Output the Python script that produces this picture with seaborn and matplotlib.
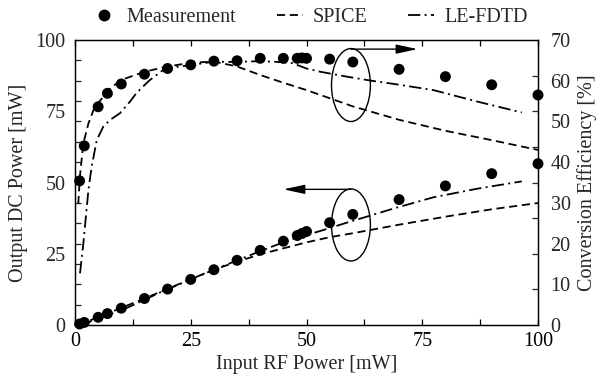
import numpy as np
import pandas as pd
import matplotlib
matplotlib.use("Agg")
import matplotlib.pyplot as plt
import seaborn as sns
from matplotlib.patches import Ellipse
from matplotlib.lines import Line2D
from matplotlib.ticker import FixedLocator

# ---------------- data ----------------
meas_x = [1, 2, 5, 7, 10, 15, 20, 25, 30, 35, 40, 45, 48, 49, 50, 55, 60, 70, 80, 90, 100]
meas_p = [0.35, 0.9, 2.7, 4.0, 5.9, 9.3, 12.6, 16.0, 19.4, 22.7, 26.2, 29.4, 31.4, 32.1, 32.8,
          35.9, 38.8, 44.0, 48.8, 53.1, 56.6]
meas_eff = [35.4, 44.0, 53.6, 56.9, 59.2, 61.6, 63.0, 63.9, 64.8, 64.9, 65.5, 65.5, 65.5, 65.6,
            65.5, 65.3, 64.6, 62.8, 61.0, 59.0, 56.5]

spice_x = [0.7, 1.1, 1.8, 2.9, 4, 5, 7.5, 10, 15, 20, 25, 30, 35, 40, 45, 50, 55, 60, 70, 80, 90, 100]
spice_eff = [29.7, 37.0, 44.6, 49.5, 52.8, 54.5, 58.0, 60.2, 62.2, 63.5, 64.4, 64.7, 63.5, 61.4,
             59.5, 57.7, 55.7, 53.7, 50.4, 47.7, 45.4, 43.0]
spice_p = [0.2, 0.4, 0.8, 1.4, 2.1, 2.7, 4.35, 6.0, 9.3, 12.7, 16.1, 19.4, 22.2, 24.8, 26.9,
           29.0, 30.8, 32.2, 35.2, 38.0, 40.6, 42.8]

fdtd_x = [1.08, 1.8, 2.9, 3.6, 4.7, 6.1, 7.6, 9.7, 11.9, 13.3, 16, 19, 22, 25.5, 30, 34, 40, 44,
          47, 50, 53, 58.7, 64, 69.5, 77.4, 86.8, 96.5]
fdtd_eff = [12.7, 20.0, 33.2, 38.9, 45.4, 48.7, 50.4, 52.0, 54.9, 57.0, 60.0, 62.6, 63.4, 63.9,
            64.7, 64.6, 64.8, 64.6, 64.3, 63.0, 62.2, 61.0, 60.0, 59.1, 57.7, 54.9, 52.2]
fdtd_p = [0.14, 0.36, 0.96, 1.4, 2.1, 3.0, 3.8, 5.0, 6.5, 7.6, 9.6, 11.9, 13.9, 16.3, 19.4,
          22.0, 25.9, 28.4, 30.2, 31.6, 33.0, 35.9, 38.5, 41.2, 44.8, 47.8, 50.4]

x_ticks = [0, 25, 50, 75, 100]
left_ticks = [0, 25, 50, 75, 100]
right_ticks = [0, 10, 20, 30, 40, 50, 60, 70]

# ---------------- style ----------------
sns.set_style("ticks")
plt.rcParams['font.family'] = ['Liberation Serif', 'DejaVu Serif']
FS = 14.5

fig = plt.figure(figsize=(6.06, 3.78), dpi=100)
ax = fig.add_axes([75/606, 1-325/378, (538-75)/606, (325-40)/378])
ax2 = ax.twinx()

LW = 1.3
SPICE_D = (4.5, 2.6)
FDTD_D = (6.8, 2.4, 1.1, 2.4)
MS = 62

# Output DC power (left)
sns.lineplot(x=spice_x, y=spice_p, ax=ax, color='k', lw=LW, estimator=None, sort=False)
ax.lines[-1].set_dashes(SPICE_D)
sns.lineplot(x=fdtd_x, y=fdtd_p, ax=ax, color='k', lw=LW, estimator=None, sort=False)
ax.lines[-1].set_dashes(FDTD_D)
sns.scatterplot(x=meas_x, y=meas_p, ax=ax, color='k', s=MS, edgecolor='none', zorder=5, clip_on=False)

# Efficiency (right)
sns.lineplot(x=spice_x, y=spice_eff, ax=ax2, color='k', lw=LW, estimator=None, sort=False)
ax2.lines[-1].set_dashes(SPICE_D)
sns.lineplot(x=fdtd_x, y=fdtd_eff, ax=ax2, color='k', lw=LW, estimator=None, sort=False)
ax2.lines[-1].set_dashes(FDTD_D)
sns.scatterplot(x=meas_x, y=meas_eff, ax=ax2, color='k', s=MS, edgecolor='none', zorder=5, clip_on=False)

ax.set_xlim(0, 100)
ax.set_ylim(0, 100)
ax2.set_ylim(0, 70)

for a in (ax, ax2):
    for s in a.spines.values():
        s.set_linewidth(0.9)
        s.set_color('k')
        s.set_visible(True)

# x ticks
ax.set_xticks(x_ticks)
ax.set_xticklabels([str(v) for v in x_ticks], fontsize=FS)
ax.xaxis.set_minor_locator(FixedLocator([12.5, 37.5, 62.5, 87.5]))
ax.tick_params(axis='x', which='both', direction='in', length=4.5, width=0.9, top=True,
               bottom=True, pad=5, colors='k')

# left y: labels only, minor ticks at right-axis 5% positions
ax.set_yticks(left_ticks)
ax.set_yticklabels([str(v) for v in left_ticks], fontsize=FS)
ax.yaxis.set_minor_locator(FixedLocator([100/14*k for k in range(1, 14)]))
ax.tick_params(axis='y', which='major', length=0, pad=7, left=True, right=False)
ax.tick_params(axis='y', which='minor', direction='in', length=4, width=0.9, left=True, right=False)

# right y: labels only, minor ticks at left-axis 12.5 positions
ax2.set_yticks(right_ticks)
ax2.set_yticklabels([str(v) for v in right_ticks], fontsize=FS)
ax2.yaxis.set_minor_locator(FixedLocator([8.75*k for k in range(1, 8)]))
ax2.tick_params(axis='y', which='major', length=0, pad=9, right=True, left=False)
ax2.tick_params(axis='y', which='minor', direction='in', length=4, width=0.9, right=True, left=False)

ax.set_xlabel("Input RF Power [mW]", fontsize=FS, labelpad=3)
ax.set_ylabel("Output DC Power [mW]", fontsize=FS, labelpad=5)
ax2.set_ylabel("Conversion Efficiency [%]", fontsize=FS, labelpad=5)

# ellipses and arrows
ax.add_patch(Ellipse((59.6, 84.2), 8.4, 25.6, fill=False, ec='k', lw=1.0, zorder=6))
ax.add_patch(Ellipse((59.6, 35.1), 8.4, 25.3, fill=False, ec='k', lw=1.0, zorder=6))
ap = dict(arrowstyle='-|>,head_length=1.3,head_width=0.28', color='k', lw=1.0,
          mutation_scale=10, shrinkA=0, shrinkB=0)
ax.annotate('', xy=(74.0, 96.8), xytext=(59.6, 96.8), arrowprops=ap, zorder=7)
ax.annotate('', xy=(45.0, 47.6), xytext=(59.6, 47.6), arrowprops=ap, zorder=7)

# legend
h1 = Line2D([], [], color='k', marker='o', ls='none', markersize=7.5)
h2 = Line2D([], [], color='k', lw=LW, dashes=SPICE_D)
h3 = Line2D([], [], color='k', lw=LW, dashes=FDTD_D)
fig.legend([h1, h2, h3], ["Measurement", "SPICE", "LE-FDTD"], loc='center',
           bbox_to_anchor=(309/606, 1-17/378), ncol=3, frameon=False, fontsize=FS,
           handlelength=1.3, handletextpad=0.5, columnspacing=2.0)

fig.savefig("out.png", dpi=100)
